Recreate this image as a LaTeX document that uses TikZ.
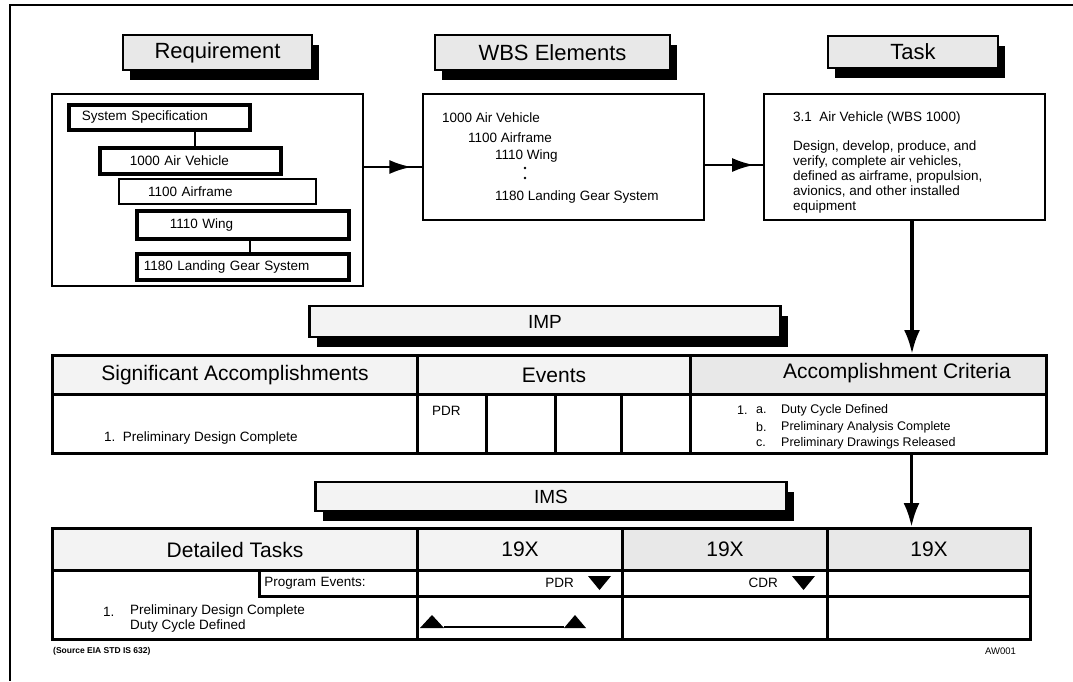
\documentclass[tikz,border=0pt]{standalone}
\usepackage{fontspec}
\setmainfont{Liberation Sans}
\usetikzlibrary{shapes, calc, arrows.meta, decorations.markings, positioning, shadows}

\definecolor{hdrgray}{HTML}{F3F3F3}
\definecolor{hdrdark}{HTML}{E8E8E8}

\begin{document}
\begin{tikzpicture}[x=1pt, y=-1pt, >=Latex,
  font=\fontsize{13.5}{15}\selectfont,
  headbox/.style={rectangle, draw, line width=2.5pt, fill=hdrdark, font=\fontsize{22}{24}\selectfont,
    drop shadow={shadow xshift=7pt, shadow yshift=-10pt, opacity=1, fill=black}},
  panel/.style={rectangle, draw, line width=2.5pt},
  elem/.style={rectangle, draw, line width=3.5pt, anchor=north west, align=left},
  cell/.style={rectangle, draw, line width=3pt, anchor=north west, inner sep=0pt},
  hdr/.style={cell, fill=hdrgray, font=\fontsize{21}{24}\selectfont},
  txt/.style={anchor=west, inner sep=0pt},
  flow/.style={line width=2.5pt, postaction={decorate}},
  downflow/.style={line width=3.5pt, -{Latex[length=24pt, width=16pt]}}
]
\useasboundingbox (0,0) rectangle (1073,681);
\draw[line width=2.5pt] (1073,5) -- (10,5) -- (10,681);

% top row
\node[headbox, minimum width=189pt, minimum height=35pt] (reqtitle) at (217.5,52.5) {Requirement};
\node[headbox, minimum width=235pt, minimum height=35pt] (wbstitle) at (552.5,52.5) {WBS Elements};
\node[headbox, minimum width=170pt, minimum height=32pt] (tasktitle) at (913,52) {Task};

\node[panel, minimum width=311pt, minimum height=192pt] (reqbox) at (207.5,190) {};
\node[panel, minimum width=281pt, minimum height=126pt] (wbsbox) at (563.5,157) {};
\node[panel, minimum width=281pt, minimum height=126pt] (taskbox) at (904.5,157) {};

\node[elem, minimum height=25pt, text width=155pt, inner xsep=13pt] (spec) at (67,103) {System Specification};
\node[elem, minimum height=26pt, text width=121pt, inner xsep=30pt] (airveh) at (98,146) {1000 Air Vehicle};
\node[elem, line width=2pt, minimum height=25pt, text width=139pt, inner xsep=29pt] (airframe) at (118,178) {1100 Airframe};
\node[elem, minimum height=28pt, text width=146pt, inner xsep=33pt] (wing) at (135,209) {1110 Wing};
\node[elem, minimum height=26pt, text width=198pt, inner xsep=7pt] (gear) at (135,252) {1180 Landing Gear System};
\draw[line width=2.5pt] ([xshift=35.5pt]spec.south) -- ([xshift=35.5pt]spec.south |- airveh.north);
\draw[line width=2.5pt] ([xshift=7pt]wing.south) -- ([xshift=7pt]wing.south |- gear.north);

\node[txt] (w1) at (442,118) {1000 Air Vehicle};
\node[txt] (w2) at (468,138) {1100 Airframe};
\node[txt] (w3) at (495,156) {1110 Wing};
\fill (525,168) circle (1.3pt) (525,178) circle (1.3pt);
\node[txt] (w6) at (495,197) {1180 Landing Gear System};

\node[txt, anchor=north west, align=left] (tasktext) at (793,112)
  {3.1\ \ Air Vehicle (WBS 1000)\\[14pt]
   Design, develop, produce, and\\ verify, complete air vehicles,\\
   defined as airframe, propulsion,\\ avionics, and other installed\\ equipment};

\draw[flow, decoration={markings, mark=at position 0.82 with {\arrow{Latex[length=22pt, width=14pt]}}}]
  ([yshift=23pt]reqbox.east) -- ([yshift=23pt]reqbox.east -| wbsbox.west);
\draw[flow, decoration={markings, mark=at position 0.85 with {\arrow{Latex[length=22pt, width=14pt]}}}]
  ([yshift=-8pt]wbsbox.east) -- ([yshift=-8pt]taskbox.west);

% IMP
\node[headbox, fill=hdrgray, font=\fontsize{19}{22}\selectfont, minimum width=471pt, minimum height=31pt] (imp) at (545,321.5) {IMP};
\node[hdr, minimum width=365pt, minimum height=39pt] (sahdr) at (51,354) {Significant Accomplishments};
\node[hdr, minimum width=273pt, minimum height=39pt] (evhdr) at (416,354) {Events};
\node[hdr, fill=hdrdark, minimum width=356pt, minimum height=39pt] (achdr) at (689,354) {};
\node[font=\fontsize{21}{24}\selectfont] (aclabel) at (897,373) {Accomplishment Criteria};

\node[cell, minimum width=365pt, minimum height=59pt] (sabody) at (51,393) {};
\node[txt] (sa1) at (104,438) {1.\ \ Preliminary Design Complete};
\foreach \x/\w [count=\i] in {416/69, 485/69, 554/66, 620/69}
  \node[cell, minimum width=\w pt, minimum height=59pt] (ev\i) at (\x,393) {};
\node[txt] (pdr1) at (432,411) {PDR};
\node[cell, minimum width=356pt, minimum height=59pt] (acbody) at (689,393) {};
\begin{scope}[font=\fontsize{12.5}{14}\selectfont]
  \node[txt] (acnum) at (737,410) {1.};
  \foreach \y/\k/\t [count=\i] in {410/a./Duty Cycle Defined, 427/b./Preliminary Analysis Complete, 443/c./Preliminary Drawings Released} {
    \node[txt] (ack\i) at (756,\y) {\k};
    \node[txt] (act\i) at (781,\y) {\t};
  }
\end{scope}

\draw[downflow] ([xshift=7.5pt]taskbox.south) -- ([xshift=7.5pt]taskbox.south |- achdr.north);

% IMS
\node[headbox, fill=hdrgray, font=\fontsize{19}{22}\selectfont, minimum width=471pt, minimum height=29pt] (ims) at (551,496.5) {IMS};
\foreach \x/\w/\c/\t [count=\i] in {51/365/hdrgray/Detailed Tasks, 416/205/hdrgray/19X, 621/205/hdrdark/19X, 826/203/hdrdark/19X}
  \node[hdr, fill=\c, minimum width=\w pt, minimum height=42pt] (ims\i) at (\x,527) {\t};
\node[cell, minimum width=365pt, minimum height=69pt] (dtbody) at (51,569) {};
\node[cell, line width=2.5pt, minimum height=26pt, text width=148pt, inner xsep=5pt, align=left] (pe) at (258,569) {Program Events:};
\foreach \x/\w [count=\i] in {416/205, 621/205, 826/203} {
  \node[cell, minimum width=\w pt, minimum height=26pt] (pr\i) at (\x,569) {};
  \node[cell, minimum width=\w pt, minimum height=43pt] (bd\i) at (\x,595) {};
}
\node[txt, anchor=east] (pdr2) at (574,583) {PDR};
\node[txt, anchor=east] (cdr) at (778,583) {CDR};
\fill (588,576) -- (611,576) -- (599.5,590) -- cycle;
\fill (792,576) -- (815,576) -- (803.5,590) -- cycle;

\node[txt] (tnum) at (103,612) {1.};
\node[txt, anchor=north west, align=left] (ttext) at (130,605) {Preliminary Design Complete\\ Duty Cycle Defined};

\fill (420,628) -- (432,615) -- (444,628) -- cycle;
\fill (564,628) -- (575,615) -- (586,628) -- cycle;
\coordinate (barstart) at (444,627);
\coordinate (barend) at (564,627);
\draw[line width=2pt] (barstart) -- (barend);

\draw[downflow] ([xshift=43pt]acbody.south) -- ([xshift=43pt]acbody.south |- ims4.north);

\node[txt, font=\fontsize{8.5}{10}\selectfont\bfseries] (src) at (53,651) {(Source EIA STD IS 632)};
\node[txt, font=\fontsize{9.5}{11}\selectfont] (awid) at (985,651) {AW001};

\end{tikzpicture}
\end{document}
